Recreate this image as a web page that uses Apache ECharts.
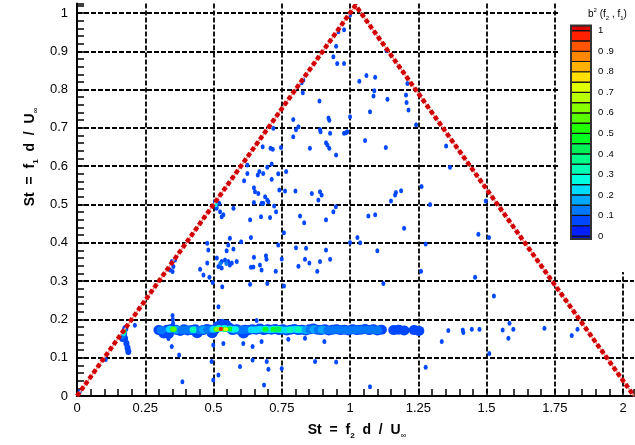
<!DOCTYPE html>
<html><head><meta charset="utf-8">
<script src="https://cdn.jsdelivr.net/npm/echarts@6/dist/echarts.min.js"></script>
<style>html,body{margin:0;padding:0;background:#fff}#c{width:635px;height:445px}</style>
</head><body><div id="c"></div>
<script>
// ---------- data ----------
const xTickLabels = ['0','0.25','0.5','0.75','1','1.25','1.5','1.75','2'];
const yTickLabels = ['0','0.1','0.2','0.3','0.4','0.5','0.6','0.7','0.8','0.9','1'];
const cbTickLabels = ['0','0 .1','0 .2','0 .3','0 .4','0 .5','0 .6','0 .7','0 .8','0 .9','1'];
const triangle = [[0,0],[1.02,1.02],[2.04,0]];
const cbEdges = [-0.015,0,0.05,0.1,0.15,0.2,0.25,0.3,0.35,0.4,0.45,0.5,0.55,0.6,0.65,0.7,0.75,0.8,0.85,0.9,0.95,1,1.025];
const cbColors = ['#0010d8','#0020ff','#0048ff','#0078ff','#00a8ff','#00dcff','#00ffe0','#00ffb4','#00ff88','#00f058',
  '#00ff20','#20ff00','#58ff00','#88ff00','#b8ff00','#e0ff00','#ffe000','#ffb000','#ff8800','#ff5500','#ff2000','#dd0000'];
// isolated bicoherence spots [f2, f1, b2]
const dots = [
 [1.0,0.995,0.07],[0.978,0.956,0.07],[0.957,0.951,0.07],[0.949,0.913,0.07],[1.133,0.902,0.07],[0.939,0.886,0.07],[0.953,0.868,0.07],[0.978,0.868,0.07],
 [1.060,0.837,0.07],[1.092,0.832,0.07],[1.034,0.822,0.07],[0.829,0.825,0.07],[0.823,0.818,0.07],[1.210,0.816,0.07],[0.827,0.792,0.07],
 [1.089,0.797,0.07],[1.086,0.783,0.07],[1.205,0.786,0.07],[1.137,0.775,0.07],[1.207,0.766,0.07],[0.888,0.770,0.07],[1.214,0.747,0.07],
 [1.073,0.742,0.07],[1.0,0.729,0.07],[0.792,0.722,0.07],[0.921,0.726,0.07],[0.924,0.720,0.07],[1.242,0.708,0.07],[0.811,0.703,0.07],
 [0.802,0.695,0.07],[0.719,0.699,0.07],[0.890,0.696,0.07],[0.892,0.690,0.07],[0.985,0.687,0.07],[0.978,0.686,0.07],[0.990,0.690,0.07],
 [0.927,0.686,0.07],[0.792,0.677,0.07],[0.912,0.661,0.07],[0.917,0.655,0.07],[1.055,0.667,0.07],[0.680,0.651,0.07],[0.709,0.647,0.07],
 [0.717,0.644,0.07],[0.747,0.649,0.07],[0.853,0.647,0.07],[0.924,0.647,0.07],[1.131,0.649,0.07],[0.949,0.629,0.07],[1.352,0.653,0.07],[1.366,0.597,0.07],
 [0.624,0.603,0.07],[0.713,0.606,0.07],[0.697,0.597,0.07],[0.766,0.586,0.07],[0.668,0.586,0.07],[0.662,0.577,0.07],[0.682,0.581,0.07],
 [0.624,0.581,0.07],[0.737,0.580,0.07],[0.612,0.562,0.07],[0.713,0.566,0.07],[0.648,0.544,0.07],[0.652,0.533,0.07],[0.664,0.529,0.07],
 [0.741,0.538,0.07],[0.762,0.535,0.07],[0.800,0.535,0.07],[0.860,0.529,0.07],[0.890,0.533,0.07],[0.896,0.525,0.07],[0.884,0.512,0.07],
 [0.689,0.520,0.07],[0.697,0.512,0.07],[0.682,0.503,0.07],[0.701,0.507,0.07],[0.648,0.505,0.07],[0.676,0.503,0.07],[0.722,0.496,0.07],
 [0.573,0.490,0.07],[0.521,0.503,0.07],[0.511,0.490,0.07],[0.524,0.481,0.07],[0.948,0.494,0.07],[0.939,0.481,0.07],[0.729,0.481,0.07],
 [0.530,0.468,0.07],[0.634,0.460,0.07],[0.674,0.468,0.07],[0.707,0.466,0.07],[0.817,0.470,0.07],[0.832,0.452,0.07],[0.912,0.460,0.07],
 [1.067,0.470,0.07],[0.758,0.426,0.07],[0.637,0.414,0.07],[1.027,0.414,0.07],[0.560,0.412,0.07],[0.601,0.403,0.07],[0.477,0.399,0.07],
 [1.0,0.401,0.07],[1.037,0.400,0.07],[0.737,0.394,0.07],[0.802,0.387,0.07],[0.839,0.386,0.07],[0.912,0.381,0.07],[0.554,0.394,0.07],
 [0.573,0.384,0.07],[0.548,0.379,0.07],[0.481,0.381,0.07],
 [0.512,0.360,0.07],[0.530,0.351,0.07],[0.542,0.355,0.07],[0.554,0.351,0.07],[0.567,0.347,0.07],[0.585,0.351,0.07],[0.518,0.338,0.07],
 [0.530,0.334,0.07],[0.560,0.342,0.07],[0.525,0.346,0.12],[0.547,0.346,0.12],
 [0.477,0.347,0.07],[0.451,0.331,0.07],[0.463,0.316,0.07],[0.485,0.310,0.07],[0.648,0.362,0.07],[0.692,0.366,0.07],[0.694,0.357,0.07],
 [0.670,0.342,0.07],[0.637,0.336,0.07],[0.646,0.337,0.07],[0.676,0.329,0.07],[0.728,0.326,0.07],[0.750,0.358,0.07],[0.811,0.339,0.07],
 [0.835,0.357,0.07],[0.851,0.347,0.07],[0.890,0.351,0.07],[0.927,0.357,0.07],[0.880,0.326,0.07],[0.532,0.285,0.07],[0.634,0.292,0.07],
 [0.697,0.294,0.07],[0.758,0.287,0.07],
 [1.168,0.531,0.07],[1.165,0.525,0.07],[1.187,0.536,0.07],[1.150,0.509,0.07],[1.262,0.547,0.07],[1.293,0.500,0.07],[1.497,0.509,0.07],
 [1.092,0.473,0.07],[1.198,0.438,0.07],[1.470,0.422,0.07],[1.509,0.414,0.07],[1.277,0.397,0.07],[1.100,0.379,0.07],[1.260,0.326,0.07],
 [1.458,0.310,0.07],[1.122,0.294,0.07],[1.527,0.261,0.07],
 [1.360,0.171,0.07],[1.413,0.172,0.07],[1.415,0.166,0.07],[1.446,0.174,0.07],[1.474,0.174,0.07],[1.336,0.142,0.07],[1.584,0.190,0.07],
 [1.559,0.172,0.07],[1.598,0.174,0.07],[1.580,0.151,0.07],[1.510,0.111,0.07],[1.712,0.177,0.07],[1.833,0.174,0.07],[1.812,0.158,0.07],
 [0.949,0.089,0.07],[1.277,0.075,0.07],[1.073,0.024,0.07],
 [0.347,0.129,0.07],[0.374,0.107,0.07],[0.386,0.037,0.07],[0.518,0.233,0.07],[0.499,0.133,0.07],[0.536,0.137,0.07],[0.493,0.090,0.07],
 [0.518,0.055,0.07],[0.499,0.042,0.07],[0.609,0.137,0.07],[0.643,0.129,0.07],[0.597,0.077,0.07],[0.643,0.094,0.07],[0.676,0.142,0.07],
 [0.695,0.090,0.07],[0.701,0.070,0.07],[0.685,0.029,0.07],[0.750,0.072,0.07],[0.774,0.148,0.07],[0.835,0.151,0.07],[0.872,0.090,0.07],
 [0.906,0.142,0.07],[0.658,0.197,0.07],[0.497,0.296,0.07],
 [0.347,0.351,0.07],[0.353,0.338,0.07],[0.341,0.329,0.07],[0.359,0.355,0.07],[0.350,0.325,0.07],[0.505,0.507,0.07],[0.511,0.494,0.07],
 [0.536,0.473,0.07],[0.508,0.499,0.25],[0.212,0.185,0.07],[0.010,0.012,0.07],[0.105,0.095,0.07],
 [0.352,0.190,0.07],[0.351,0.200,0.07],[0.350,0.210,0.07],[0.335,0.150,0.07]
];
// the strong interaction band near f1 = 0.175 [f2, f1, b2]
const band = [
 [0.300,0.172,0.07],[0.315,0.170,0.07],[0.330,0.173,0.07],[0.345,0.175,0.07],[0.362,0.173,0.07],
 [0.378,0.170,0.07],[0.392,0.174,0.07],[0.405,0.171,0.07],[0.420,0.172,0.07],[0.433,0.174,0.07],[0.448,0.170,0.07],[0.462,0.172,0.07],
 [0.476,0.175,0.07],[0.490,0.173,0.07],[0.505,0.174,0.07],[0.518,0.183,0.07],[0.530,0.188,0.07],[0.545,0.186,0.07],[0.558,0.178,0.07],
 [0.570,0.172,0.07],[0.585,0.174,0.07],[0.600,0.171,0.07],[0.615,0.173,0.07],[0.628,0.172,0.07],[0.642,0.174,0.07],[0.656,0.173,0.07],
 [0.670,0.176,0.07],[0.684,0.172,0.07],[0.698,0.174,0.07],[0.712,0.173,0.07],[0.726,0.175,0.07],[0.740,0.172,0.07],[0.754,0.174,0.07],
 [0.768,0.171,0.07],[0.782,0.173,0.07],[0.796,0.175,0.07],[0.810,0.172,0.07],[0.824,0.173,0.07],[0.838,0.171,0.07],[0.852,0.174,0.07],
 [0.866,0.176,0.07],[0.880,0.173,0.07],[0.894,0.172,0.07],[0.908,0.174,0.07],[0.922,0.171,0.07],[0.936,0.173,0.07],[0.950,0.174,0.07],
 [0.965,0.172,0.07],[0.980,0.173,0.07],[0.995,0.171,0.07],[1.010,0.174,0.07],[1.025,0.172,0.07],[1.040,0.173,0.07],[1.055,0.175,0.07],
 [1.070,0.172,0.07],[1.085,0.174,0.07],[1.100,0.171,0.07],[1.115,0.173,0.07],[1.160,0.172,0.07],[1.178,0.173,0.07],[1.198,0.171,0.07],
 [1.235,0.172,0.07],[1.252,0.170,0.07],[0.318,0.163,0.07],[0.335,0.162,0.07],[0.440,0.164,0.07],[0.610,0.163,0.07],[0.495,0.164,0.07],
 [0.310,0.172,0.12],[0.340,0.174,0.2],[0.365,0.173,0.17],[0.385,0.172,0.15],[0.400,0.173,0.15],[0.415,0.172,0.13],[0.430,0.173,0.2],
 [0.450,0.172,0.15],[0.465,0.173,0.17],[0.480,0.173,0.15],[0.500,0.174,0.2],[0.520,0.176,0.25],[0.540,0.176,0.25],[0.560,0.175,0.22],
 [0.575,0.173,0.2],[0.590,0.173,0.15],[0.605,0.172,0.13],[0.620,0.173,0.15],[0.640,0.173,0.2],[0.655,0.173,0.22],[0.670,0.174,0.2],
 [0.690,0.174,0.25],[0.705,0.173,0.2],[0.720,0.174,0.25],[0.735,0.174,0.25],[0.750,0.173,0.22],[0.765,0.172,0.2],[0.780,0.173,0.22],
 [0.795,0.174,0.2],[0.810,0.173,0.22],[0.825,0.173,0.2],[0.840,0.172,0.18],[0.855,0.173,0.15],[0.870,0.174,0.18],[0.885,0.173,0.15],
 [0.900,0.173,0.17],[0.920,0.172,0.15],[0.940,0.173,0.13],[0.960,0.173,0.15],[0.980,0.172,0.13],[1.000,0.172,0.12],[1.020,0.173,0.13],
 [1.040,0.173,0.12],[1.060,0.173,0.13],[1.080,0.173,0.12],[1.100,0.172,0.12],
 [0.353,0.174,0.4],[0.425,0.173,0.35],[0.510,0.174,0.45],[0.542,0.174,0.5],[0.560,0.175,0.45],[0.580,0.174,0.3],[0.690,0.174,0.45],
 [0.720,0.174,0.48],[0.737,0.174,0.4],[0.780,0.173,0.35],[0.810,0.174,0.32],
 [0.353,0.174,0.58],[0.513,0.174,0.62],[0.545,0.174,0.72],
 [0.527,0.175,0.8],[0.527,0.175,0.92],[0.527,0.175,0.97]
];
// the spot near (0.175, 0.165), on the left edge of the triangle [f2, f1, b2]
const spot = [
 [0.176,0.150,0.07],[0.181,0.138,0.07],[0.185,0.126,0.07],[0.188,0.116,0.07],[0.172,0.162,0.07],[0.177,0.176,0.07],[0.166,0.150,0.07],
 [0.168,0.157,0.15],[0.172,0.163,0.25],[0.175,0.168,0.4],[0.176,0.170,0.5]
];

// ---------- helpers ----------
function colorOf(v){ const i = Math.min(20, Math.floor(v/0.05)+1); return cbColors[i]; }
function bandSize(v){
  if (v < 0.1) return [11,10];
  if (v < 0.2) return [10,8];
  if (v < 0.3) return [8,7];
  if (v < 0.45) return [7,6];
  if (v < 0.7) return [6,5];
  if (v < 0.9) return [5,4];
  return [4,4];
}
function spotSize(v){
  if (v < 0.1) return [6,7];
  if (v < 0.2) return [5,6];
  if (v < 0.3) return [4,5];
  return [3,4];
}
const cbBands = [];
for (let i = 0; i < cbEdges.length-1; i++) cbBands.push([cbEdges[i], cbEdges[i+1], i]);

const FONT = 'Liberation Sans, Arial, sans-serif';
const chart = echarts.init(document.getElementById('c'), null, {renderer:'canvas'});
const splitStyle = {color:'#000', width:1.8, type:[5,2]};
const nameRich = {
  t:{fontSize:14, fontWeight:'bold', fontFamily:FONT, color:'#000', lineHeight:20},
  s:{fontSize:8, fontWeight:'bold', fontFamily:FONT, color:'#000', lineHeight:9, verticalAlign:'bottom'},
  i:{fontSize:8, fontFamily:FONT, color:'#000', lineHeight:8, verticalAlign:'bottom'}
};
chart.setOption({
  animation:false,
  backgroundColor:'#fff',
  grid:[
    {left:77, right:1, top:3.4, bottom:49},
    {left:571, top:30.7, width:20, height:205.3}
  ],
  xAxis:[
    {type:'value', gridIndex:0, min:0, max:2.04, interval:0.25,
     axisLine:{lineStyle:{color:'#000', width:2}},
     axisTick:{inside:true, length:7, lineStyle:{color:'#000', width:1.5}},
     minorTick:{show:true, splitNumber:5, length:7, lineStyle:{color:'#000', width:1.5}},
     splitLine:{show:true, showMinLine:false, showMaxLine:false, lineStyle:splitStyle},
     axisLabel:{color:'#000', fontSize:13, fontFamily:FONT, margin:6, showMaxLabel:false,
       formatter:(v)=>{const k=Math.round(v*4); return Math.abs(v*4-k)<1e-6 && k<xTickLabels.length ? xTickLabels[k] : '';}}},
    {type:'value', gridIndex:1, min:0, max:1, show:false}
  ],
  yAxis:[
    {type:'value', gridIndex:0, min:0, max:1.025, interval:0.1,
     axisLine:{lineStyle:{color:'#000', width:2}},
     axisTick:{inside:true, length:7, lineStyle:{color:'#000', width:1.5}},
     minorTick:{show:true, splitNumber:5, length:7, lineStyle:{color:'#000', width:1.5}},
     splitLine:{show:true, showMinLine:false, showMaxLine:false, lineStyle:splitStyle},
     axisLabel:{color:'#000', fontSize:13, fontFamily:FONT, margin:9, showMaxLabel:false,
       formatter:(v)=>{const k=Math.round(v*10); return Math.abs(v*10-k)<1e-6 && k<yTickLabels.length ? yTickLabels[k] : '';}}},
    {type:'value', gridIndex:1, min:0, max:1, interval:0.1, position:'right', z:10,
     axisLine:{show:false}, axisTick:{show:false}, splitLine:{show:false},
     axisLabel:{color:'#000', fontSize:9.5, fontFamily:FONT, margin:7,
       formatter:(v)=>cbTickLabels[Math.round(v*10)]}}
  ],
  series:[
    {type:'scatter', xAxisIndex:0, yAxisIndex:0, data:band, z:2,
     symbol:'circle', symbolSize:(d)=>bandSize(d[2]),
     itemStyle:{color:(p)=>colorOf(p.data[2]), opacity:1}, silent:true},
    {type:'scatter', xAxisIndex:0, yAxisIndex:0, data:spot, z:2,
     symbol:'circle', symbolSize:(d)=>spotSize(d[2]),
     itemStyle:{color:(p)=>colorOf(p.data[2]), opacity:1}, silent:true},
    {type:'scatter', xAxisIndex:0, yAxisIndex:0, data:dots, z:2,
     symbol:'circle', symbolSize:[4,5],
     itemStyle:{color:(p)=>colorOf(p.data[2]), opacity:1}, silent:true},
    {type:'line', xAxisIndex:0, yAxisIndex:0, data:triangle, z:3, symbol:'none',
     lineStyle:{color:'#f39a9a', width:1.5}, silent:true},
    {type:'line', xAxisIndex:0, yAxisIndex:0, data:triangle, z:4, symbol:'none',
     lineStyle:{color:'#d20000', width:4.5, type:[4.5,2.5], cap:'butt'}, silent:true},
    {type:'custom', xAxisIndex:1, yAxisIndex:1, data:cbBands, z:12, clip:false, silent:true,
     renderItem:(params, api)=>{
       const lo = api.value(0), hi = api.value(1), ci = api.value(2);
       const pTop = api.coord([0, hi]), pBot = api.coord([0, lo]);
       const cs = params.coordSys;
       return {type:'rect', shape:{x:cs.x, y:pTop[1], width:cs.width, height:pBot[1]-pTop[1]},
         style:{fill:cbColors[ci], stroke:'#111', lineWidth:1.2}};
     }}
  ],
  graphic:{elements:[
    {type:'rect', x:558, y:0, z:1, shape:{width:77, height:272}, style:{fill:'#fff'}, silent:true},
    {type:'rect', x:571, y:25.6, z:20, shape:{width:20, height:213.5}, style:{fill:'none', stroke:'#333', lineWidth:2}, silent:true},
    {type:'text', x:588, y:14, z:20, silent:true, style:{
      text:'{b|b}{p|2}{b| (f}{s|2}{b| , f}{s|1}{b|)}',
      align:'left', verticalAlign:'middle', textAlign:'left', textVerticalAlign:'middle',
      rich:{
        b:{fontSize:10, fontFamily:FONT, fill:'#000', color:'#000', lineHeight:14},
        p:{fontSize:6, fontFamily:FONT, fill:'#000', color:'#000', lineHeight:7, verticalAlign:'top'},
        s:{fontSize:6, fontFamily:FONT, fill:'#000', color:'#000', lineHeight:7, verticalAlign:'bottom'}
      }}},
    {type:'text', x:357, y:430, z:20, silent:true, style:{
      text:'{t|St  =  f}{s|2}{t|  d  /  U}{i|∞}',
      align:'center', verticalAlign:'middle', textAlign:'center', textVerticalAlign:'middle', rich:nameRich}},
    {type:'text', x:30, y:157, z:20, rotation:Math.PI/2, silent:true, style:{
      text:'{t|St  =  f}{s|1}{t|  d  /  U}{i|∞}',
      align:'center', verticalAlign:'middle', textAlign:'center', textVerticalAlign:'middle', rich:nameRich}}
  ]}
});
</script></body></html>
